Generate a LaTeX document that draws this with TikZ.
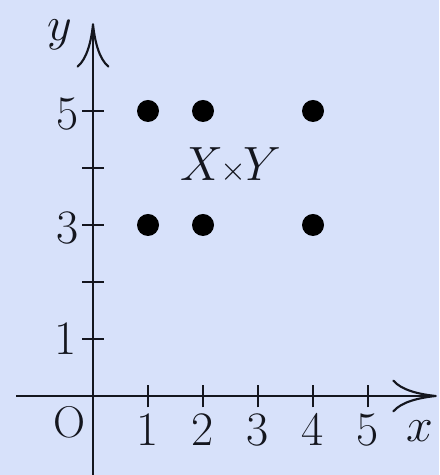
\documentclass[tikz,border=0pt]{standalone}
\usetikzlibrary{arrows.meta}
\definecolor{bgblue}{RGB}{215,225,250}
\definecolor{ink}{RGB}{20,22,30}
\begin{document}
\begin{tikzpicture}[x=1cm,y=1.0364cm,
  axis/.style={draw=ink,line width=1.3pt,-{To[length=23pt,width=17pt,line width=1.1pt]}},
  tickmark/.style={draw=ink,line width=0.7pt},
  lbl/.style={inner sep=0pt,text=ink,font=\fontsize{24}{29}\selectfont},
  pt/.style={circle,fill=black,inner sep=0pt,minimum size=0.4cm}]
\fill[bgblue] (-1.691,-1.386) rectangle (6.291,6.947);
\useasboundingbox (-1.691,-1.386) rectangle (6.291,6.947);
% axes
\coordinate (xs) at (-1.40,0);
\coordinate (xe) at (6.25,0);
\coordinate (ys) at (0,-1.45);
\coordinate (ye) at (0,6.54);
\draw[axis] (xs) -- (xe);
\draw[axis] (ys) -- (ye);
% ticks
\foreach \i in {1,...,5}{
  \draw[tickmark] (\i,-0.2) -- (\i,0.2);
  \draw[tickmark] (-0.2,\i) -- (0.2,\i);
  \node[lbl] (xl\i) at (\i,-0.6) {$\i$};
}
\node[lbl] (yl5) at (-0.47,4.94) {$5$};
\node[lbl] (yl3) at (-0.47,2.94) {$3$};
\node[lbl] (yl1) at (-0.50,1.0) {$1$};
\node[lbl,font=\fontsize{23}{28}\selectfont] (o) at (-0.42,-0.455) {O};
\node[lbl] (xlab) at (5.95,-0.615) {$x$};
\node[lbl] (ylab) at (-0.6,6.33) {$y$};
\node[lbl] (xy) at (2.51,4.05) {$X\mkern-1mu{\scriptstyle\times}\mkern-1mu Y$};
% points
\foreach \a in {1,2,4}{
  \foreach \b in {3,5}{
    \node[pt] (p\a\b) at (\a,\b) {};
  }
}
\end{tikzpicture}
\end{document}
